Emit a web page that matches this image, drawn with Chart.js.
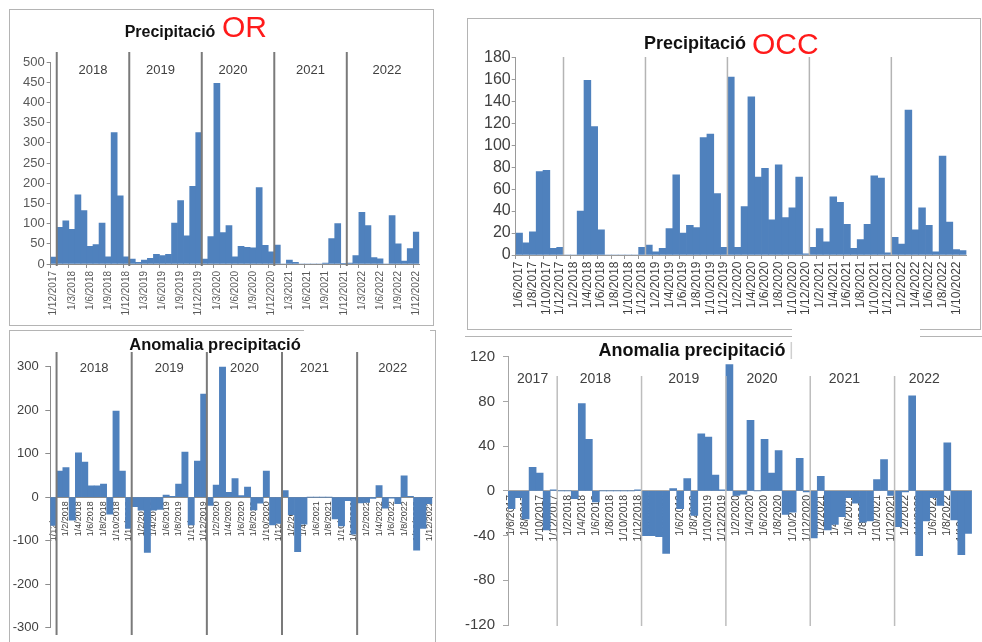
<!DOCTYPE html>
<html>
<head>
<meta charset="utf-8">
<script src="https://cdn.jsdelivr.net/npm/chart.js@4.4.1/dist/chart.umd.min.js"></script>
<style>
  html, body { margin: 0; padding: 0; background: #fff; }
  body { width: 982px; height: 642px; position: relative; overflow: hidden;
         font-family: "Liberation Sans", Arial, sans-serif; }
  canvas, .box, .mask, .txt { position: absolute; }
  .box { border: 1px solid #b4b4b4; box-sizing: border-box; }
  .mask { background: #fff; }
  .title { font-weight: bold; color: #111; transform: translate(-50%, -50%); white-space: nowrap; }
  .red { color: #ff1a1a; transform: translateY(-50%); white-space: nowrap; }
</style>
</head>
<body>

<!-- panel frames -->
<div class="box" style="left:9px;top:9px;width:425px;height:317px"></div>
<div class="box" style="left:467px;top:18px;width:514px;height:312px"></div>
<div class="box" style="left:9px;top:330px;width:427px;height:330px"></div>
<div class="mask" style="left:465px;top:336px;width:517px;height:1px;background:#b4b4b4"></div>
<div class="mask" style="left:304px;top:327px;width:126px;height:9px"></div>
<div class="mask" style="left:792px;top:326px;width:128px;height:16px"></div>

<canvas id="orPrecipChart" width="423" height="315" style="left:10px;top:10px"></canvas>
<canvas id="occPrecipChart" width="513" height="311" style="left:467px;top:18px"></canvas>
<canvas id="orAnomChart" width="432" height="312" style="left:9px;top:330px"></canvas>
<canvas id="occAnomChart" width="517" height="305" style="left:465px;top:337px"></canvas>

<div class="txt title" style="left:170px;top:32px;font-size:16px">Precipitació</div>
<div class="txt red" style="left:222px;top:27px;font-size:30px">OR</div>
<div class="txt title" style="left:695px;top:43px;font-size:18px">Precipitació</div>
<div class="txt red" style="left:752px;top:44px;font-size:30px">OCC</div>
<div class="txt title" style="left:215px;top:344px;font-size:16.5px">Anomalia precipitació</div>
<div class="txt title" style="left:692px;top:350px;font-size:18px">Anomalia precipitació</div>
<div class="txt" style="left:789px;top:339px;font-size:18px;color:#cfcfcf">|</div>

<script>
// ---------------------------------------------
// Data (mm, monthly)
// OR series start 1/12/2017, OCC series start 1/6/2017
// ---------------------------------------------
const orPrecip = [
  17,
  91, 107, 86, 171, 132, 44, 48, 101, 18, 325, 169, 18,
  12, 4, 10, 14, 24, 21, 24, 101, 157, 70, 192, 325,
  12, 68, 447, 78, 95, 18, 44, 41, 40, 189, 46, 30,
  47, 0, 10, 4, 0, 0, 0, 0, 2, 63, 100, 1,
  2, 21, 128, 95, 16, 13, 0, 120, 50, 7, 38, 79
];

const orAnomaly = [
  -65,
  60, 68, -53, 102, 81, 26, 26, 30, -39, 198, 60, -72,
  -22, -30, -127, -30, -28, 5, 2, 30, 104, -64, 83, 237,
  -19, 28, 303, 11, 43, 4, 23, -29, -14, 60, -64, -60,
  15, -40, -125, -62, 0, 0, 0, 0, -50, -66, -8, -85,
  -13, -12, -3, 27, -25, -2, -15, 49, 2, -122, -72, -15
];

const occPrecip = [
  20, 11, 21, 76, 77, 6, 7,
  0, 0, 40, 159, 117, 23, 0, 0, 0, 0, 0, 7,
  9, 3, 6, 24, 73, 20, 27, 25, 107, 110, 56, 7,
  162, 7, 44, 144, 71, 79, 32, 82, 34, 43, 71, 1,
  7, 24, 12, 53, 48, 28, 6, 14, 28, 72, 70, 2,
  16, 10, 132, 23, 43, 27, 3, 90, 30, 5, 4
];

const occAnomaly = [
  -16, -6, -25, 21, 16, -35, 1,
  0, 0, -7, 78, 46, -10, 0, 0, 0, 0, 0, 1,
  -40, -40, -41, -56, 2, -16, 11, -22, 51, 48, 14, 1,
  113, -4, -3, 63, 0, 46, 16, 36, -21, -19, 29, -1,
  -42, 13, -35, -30, -23, -6, -11, -28, -27, 10, 28, -4,
  -32, -1, 85, -58, -27, -6, -13, 43, -26, -57, -38
];

const orYears = ["2018", "2019", "2020", "2021", "2022"];
const occYears = ["2017", "2018", "2019", "2020", "2021", "2022"];

// index of the December bar that closes each year
const orYearEnds = [0, 12, 24, 36, 48];
const occYearEnds = [6, 18, 30, 42, 54];

// "1/M/YYYY" category labels, one per month
function monthLabels(month, year, count) {
  const out = [];
  for (let i = 0; i < count; i++) {
    out.push("1/" + month + "/" + year);
    month++;
    if (month > 12) { month = 1; year++; }
  }
  return out;
}
const orMonths = monthLabels(12, 2017, orPrecip.length);
const occMonths = monthLabels(6, 2017, occPrecip.length);

const FONT = '"Liberation Sans", Arial, sans-serif';
Chart.defaults.font.family = FONT;

// ---------------------------------------------
// Vertical year separators + year captions
// ---------------------------------------------
const yearLines = {
  id: "yearLines",
  afterDatasetsDraw(chart, args, opts) {
    const x = chart.scales.x;
    const area = chart.chartArea;
    const ctx = chart.ctx;
    const half = (x.getPixelForValue(1) - x.getPixelForValue(0)) / 2;
    const edges = [area.left];
    opts.after.forEach((i) => edges.push(x.getPixelForValue(i) + half));
    edges.push(area.right);

    ctx.save();
    ctx.strokeStyle = opts.color;
    ctx.lineWidth = opts.width;
    for (let k = 1; k < edges.length - 1; k++) {
      ctx.beginPath();
      ctx.moveTo(edges[k], opts.top);
      ctx.lineTo(edges[k], opts.bottom);
      ctx.stroke();
    }
    ctx.fillStyle = opts.labelColor;
    ctx.font = opts.font;
    ctx.textAlign = "center";
    ctx.textBaseline = "middle";
    opts.years.forEach((yr, k) => {
      const s = k + opts.first;
      ctx.fillText(yr, (edges[s] + edges[s + 1]) / 2 + (opts.shift[k] || 0), opts.labelY);
    });
    ctx.restore();
  },
};

function makeChart(canvasId, labels, values, s) {
  return new Chart(document.getElementById(canvasId), {
    type: "bar",
    data: {
      labels: labels,
      datasets: [{
        data: values,
        backgroundColor: "#4f81bd",
        borderWidth: 0,
        categoryPercentage: 1,
        barPercentage: 1,
      }],
    },
    options: {
      responsive: false,
      animation: false,
      devicePixelRatio: 1,
      layout: { padding: s.padding },
      plugins: {
        legend: { display: false },
        tooltip: { enabled: false },
        yearLines: s.years,
      },
      scales: {
        x: {
          position: s.xPos,
          z: 1,
          grid: {
            display: true,
            drawOnChartArea: false,
            offset: true,
            tickLength: s.xTick,
            tickColor: (c) => (s.xTickColor && c.index % s.every === 0 ? s.xTickColor : "rgba(0,0,0,0)"),
          },
          border: { display: true, color: s.axisColor },
          ticks: {
            autoSkip: false,
            minRotation: 90,
            maxRotation: 90,
            padding: s.xPad,
            color: s.textColor,
            font: { size: s.xFont },
            callback: (v, i) => (i % s.every === 0 ? labels[i] : ""),
          },
          afterFit: (sc) => { sc.height = s.xHeight; },
        },
        y: {
          min: s.min,
          max: s.max,
          ticks: {
            autoSkip: false,
            stepSize: s.step,
            padding: s.yPad,
            color: s.textColor,
            font: { size: s.yFont },
          },
          grid: {
            display: true,
            drawOnChartArea: false,
            tickLength: s.yTick,
            tickColor: s.axisColor,
          },
          border: { display: true, color: s.axisColor },
          afterFit: (sc) => { sc.width = s.yWidth; },
        },
      },
    },
    plugins: [yearLines],
  });
}

// top-left: OR precipitation
makeChart("orPrecipChart", orMonths, orPrecip, {
  padding: { left: 0, top: 52, right: 13.7, bottom: 0 },
  xPos: "bottom", xHeight: 61, xTick: 4, xPad: 3, xFont: 10, every: 3, xTickColor: "#8c8c8c",
  yWidth: 40.7, yTick: 4, yPad: 2, yFont: 13,
  min: 0, max: 500, step: 50,
  textColor: "#595959", axisColor: "#8c8c8c",
  years: { after: orYearEnds, years: orYears, first: 1, top: 42, bottom: 256,
           color: "#7a7a7a", width: 2, labelY: 60, font: "13px " + FONT,
           labelColor: "#404040", shift: [0, -5, -5, 0, 4] },
});

// top-right: OCC precipitation
makeChart("occPrecipChart", occMonths, occPrecip, {
  padding: { left: 0, top: 39.3, right: 7.3, bottom: 0 },
  xPos: "bottom", xHeight: 74, xTick: 4, xPad: 2.5, xFont: 12, every: 2, xTickColor: "#9a9a9a",
  yWidth: 48.7, yTick: 4, yPad: 1, yFont: 16,
  min: 0, max: 180, step: 20,
  textColor: "#404040", axisColor: "#9a9a9a",
  years: { after: occYearEnds, years: [], first: 0, top: 39, bottom: 237,
           color: "#b4b4b4", width: 1.5, labelY: 0, font: "12px " + FONT,
           labelColor: "#404040", shift: [] },
});

// bottom-left: OR anomaly
makeChart("orAnomChart", orMonths, orAnomaly, {
  padding: { left: 0, top: 36.7, right: 5, bottom: 10.3 },
  xPos: { y: 0 }, xHeight: 0, xTick: 3, xPad: 1, xFont: 9, every: 2, xTickColor: null,
  yWidth: 41.3, yTick: 5, yPad: 6.5, yFont: 13,
  min: -300, max: 300, step: 100,
  textColor: "#404040", axisColor: "#8c8c8c",
  years: { after: orYearEnds, years: orYears, first: 1, top: 22, bottom: 305,
           color: "#7a7a7a", width: 2, labelY: 38, font: "13px " + FONT,
           labelColor: "#404040", shift: [0, 0, 0, -5, -2] },
});

// bottom-right: OCC anomaly
makeChart("occAnomChart", occMonths, occAnomaly, {
  padding: { left: 0, top: 19.7, right: 2, bottom: 12 },
  xPos: { y: 0 }, xHeight: 0, xTick: 3, xPad: 1, xFont: 10.5, every: 2, xTickColor: null,
  yWidth: 43, yTick: 5, yPad: 8, yFont: 15,
  min: -120, max: 120, step: 40,
  textColor: "#404040", axisColor: "#a6a6a6",
  years: { after: occYearEnds, years: occYears, first: 0, top: 39, bottom: 289,
           color: "#bdbdbd", width: 1.5, labelY: 42, font: "14px " + FONT,
           labelColor: "#404040", shift: [0, -4, 0, -6, -8, -9] },
});
</script>
</body>
</html>
